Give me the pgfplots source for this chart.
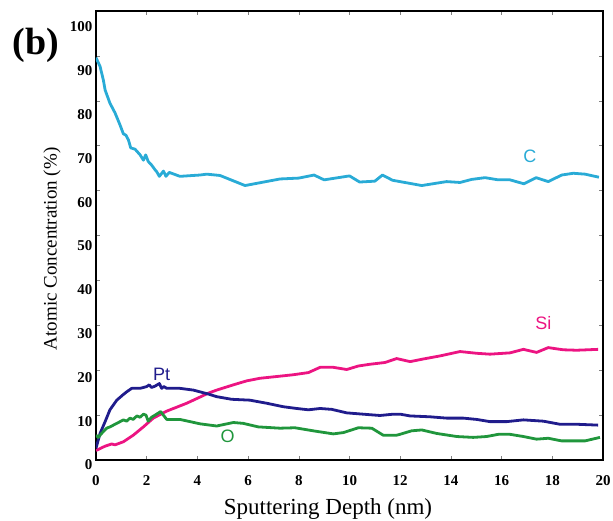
\documentclass[border=0pt]{standalone}
\usepackage{fontspec}
\setmainfont{Liberation Serif}
\newfontfamily\arialfont{Liberation Sans}
\usepackage{pgfplots}
\pgfplotsset{compat=1.18}
\definecolor{cC}{RGB}{41,171,214}
\definecolor{cSi}{RGB}{236,20,130}
\definecolor{cPt}{RGB}{32,28,140}
\definecolor{cO}{RGB}{32,150,60}
\begin{document}
\begin{tikzpicture}
\useasboundingbox (-96pt,-61pt) rectangle (517pt,460pt);
\begin{axis}[
  scale only axis, width=507pt, height=449pt,
  xmin=0, xmax=20, ymin=1.14, ymax=103.65,
  axis line style={line width=1.6pt, black},
  xtick={0,2,...,20},
  ytick={10,20,...,100},
  extra y ticks={1.14},
  extra y tick labels={0},
  extra y tick style={yticklabel style={yshift=-5pt}},
  minor xtick={2,4,...,18},
  minor ytick={11.39,21.64,31.89,42.14,52.39,62.64,72.89,83.14,93.39},
  minor tick length=4pt,
  major tick length=0pt,
  tick style={gray, line width=0.6pt},
  tick align=inside,
  /pgf/number format/assume math mode=true,
  tick label style={font=\fontsize{15}{17}\selectfont\bfseries},
  xticklabel style={yshift=-12pt},
  xlabel={Sputtering Depth (nm)},
  ylabel={Atomic Concentration (\%)},
  xlabel style={font=\fontsize{23}{26}\selectfont, at={(axis description cs:0.4576,-0.1091)}, anchor=center},
  ylabel style={font=\fontsize{19}{22}\selectfont, at={(axis description cs:-0.0868,0.47)}, anchor=center},
  every axis plot/.append style={line width=2.8pt, line join=round},
]
% C
\addplot[cC] coordinates {(0,93.0)(0.16,91.0)(0.29,87.9)(0.36,85.6)(0.55,82.6)(0.75,80.4)(0.95,77.6)(1.08,75.6)(1.18,75.3)(1.28,74.2)(1.37,72.4)(1.54,72.1)(1.74,70.8)(1.87,69.6)(1.96,70.8)(2.06,69.3)(2.19,68.5)(2.33,67.4)(2.39,67.0)(2.50,65.9)(2.66,67.1)(2.76,65.9)(2.89,66.8)(3.31,65.9)(4.10,66.2)(4.37,66.4)(4.89,66.1)(5.88,63.8)(7.26,65.3)(8.0,65.5)(8.6,66.2)(9.0,65.1)(10.0,66.0)(10.4,64.6)(11.0,64.8)(11.3,66.2)(11.7,65.0)(11.99,64.7)(12.85,63.8)(13.83,64.7)(14.36,64.5)(14.82,65.2)(15.35,65.6)(15.87,65.1)(16.33,65.1)(16.88,64.2)(17.36,65.6)(17.84,64.7)(18.37,66.2)(18.83,66.6)(19.29,66.4)(19.84,65.7)};
% Si
\addplot[cSi] coordinates {(0,3.3)(0.36,4.3)(0.62,4.8)(0.75,4.6)(1.08,5.3)(1.47,6.8)(1.87,8.7)(2.26,10.7)(2.79,12.3)(3.58,14.1)(4.10,15.5)(4.43,16.4)(4.76,17.1)(5.42,18.3)(5.94,19.2)(6.47,19.8)(7.13,20.2)(7.78,20.6)(8.38,21.1)(8.84,22.3)(9.36,22.3)(9.89,21.8)(10.35,22.6)(10.81,23.0)(11.40,23.4)(11.86,24.3)(12.39,23.6)(12.91,24.2)(13.57,24.9)(14.36,25.9)(15.02,25.5)(15.54,25.3)(16.33,25.6)(16.86,26.4)(17.38,25.7)(17.84,26.8)(18.43,26.3)(18.96,26.2)(19.81,26.4)};
% Pt
\addplot[cPt] coordinates {(0,3.8)(0.16,7.2)(0.36,9.9)(0.55,12.6)(0.82,14.8)(1.08,16.1)(1.21,16.7)(1.41,17.5)(1.74,17.5)(2.0,17.9)(2.10,18.3)(2.19,17.7)(2.33,18.0)(2.50,18.6)(2.59,17.5)(2.68,17.9)(2.79,17.5)(3.31,17.5)(3.84,17.1)(4.43,16.2)(4.76,15.6)(5.35,15.0)(6.07,14.8)(6.73,14.1)(7.39,13.3)(7.92,12.9)(8.38,12.6)(8.84,12.9)(9.30,12.7)(9.89,11.9)(10.54,11.6)(11.20,11.3)(11.73,11.6)(12.0,11.6)(12.39,11.2)(13.18,11.0)(13.83,10.7)(14.49,10.7)(15.02,10.4)(15.54,9.9)(16.2,9.9)(16.86,10.3)(17.65,10.0)(18.30,9.3)(18.96,9.3)(19.81,9.1)};
% O
\addplot[cO] coordinates {(0,6.8)(0.09,6.3)(0.22,7.2)(0.42,8.4)(0.55,8.7)(0.82,9.5)(0.95,9.9)(1.08,10.3)(1.21,10.0)(1.34,10.7)(1.47,10.4)(1.61,11.2)(1.74,10.9)(1.87,11.6)(1.97,11.4)(2.06,10.0)(2.19,10.9)(2.39,11.6)(2.55,12.2)(2.63,11.6)(2.79,10.4)(3.31,10.4)(3.71,9.9)(4.10,9.4)(4.76,8.9)(5.42,9.7)(5.81,9.5)(6.40,8.7)(7.26,8.4)(7.85,8.5)(8.57,7.8)(9.36,7.1)(9.76,7.4)(10.35,8.5)(10.88,8.4)(11.33,6.8)(11.86,6.8)(11.99,7.0)(12.45,7.8)(12.85,8.0)(13.44,7.2)(14.23,6.5)(14.88,6.3)(15.41,6.5)(15.87,7.0)(16.33,7.0)(16.86,6.5)(17.38,5.9)(17.84,6.1)(18.37,5.5)(19.29,5.5)(19.88,6.3)};
\node[text=cC, font=\fontsize{18}{20}\selectfont\arialfont] at (axis cs:17.12,70.4) {C};
\node[text=cSi, font=\fontsize{18}{20}\selectfont\arialfont] at (axis cs:17.65,32.5) {Si};
\node[text=cPt, font=\fontsize{18}{20}\selectfont\arialfont] at (axis cs:2.59,20.8) {Pt};
\node[text=cO, font=\fontsize{18}{20}\selectfont\arialfont] at (axis cs:5.19,6.5) {O};
\end{axis}
\node[font=\fontsize{38}{42}\selectfont\bfseries] at (-60pt,415pt) {(b)};
\end{tikzpicture}
\end{document}
